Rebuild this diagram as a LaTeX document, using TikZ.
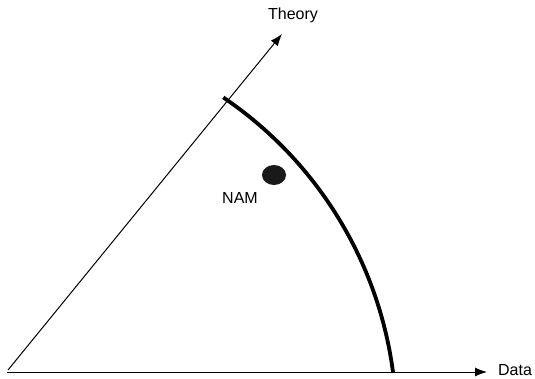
\documentclass[tikz,border=0pt]{standalone}
\usepackage{fontspec}
\setmainfont{Liberation Sans}
\usetikzlibrary{calc,shapes,arrows.meta}
\tikzset{axis/.style={-{Latex[length=12pt,width=9pt]},line width=1pt}, frontier/.style={line width=3.8pt}}

\begin{document}
\begin{tikzpicture}[x=1pt,y=1pt]
    \useasboundingbox (0,0) rectangle (535,378);
    \fontsize{16}{19}\selectfont

    % Axes
    \coordinate (o1) at (7,6);
    \coordinate (o2) at (8,8);
    \coordinate (dend) at (487,6);
    \coordinate (tend) at (282,344);
    \draw[axis] (o1) -- (dend);
    \draw[axis] (o2) -- (tend);
    \node (data) at (515,8) {Data};
    \node (theory) at (293,363) {Theory};

    % Frontier
    \coordinate (c) at (2.4,-45.7);
    \coordinate (fstart) at ($(c)+(55.9:394)$);
    \draw[frontier] (fstart) arc[start angle=55.9,end angle=7.4,radius=394];

    % NAM
    \node[ellipse,fill=black!90,minimum width=24pt,minimum height=20pt,inner sep=0pt] (dot) at (274,203) {};
    \node (nam) at (240,180) {NAM};

\end{tikzpicture}
\end{document}
